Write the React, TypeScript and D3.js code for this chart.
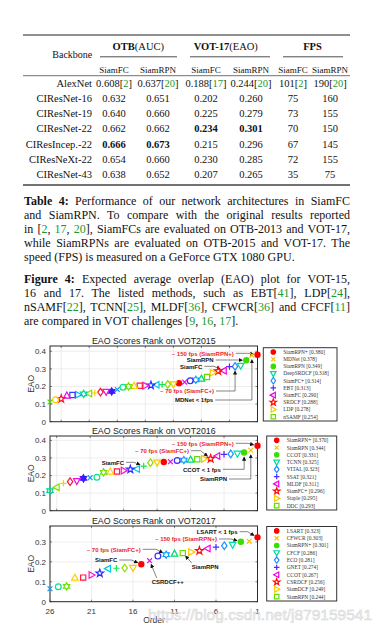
import * as d3 from "d3";
import { useEffect, useRef } from "react";

const W = 384;
const H = 635;
const SERIF = "'Liberation Serif', 'Times New Roman', serif";
const SANS = "'Liberation Sans', Arial, sans-serif";
const CITE = "#1c9a2c";

// ---- Table 4 ----
const backbones = ["AlexNet", "CIResNet-16", "CIResNet-19", "CIResNet-22", "CIResIncep.-22", "CIResNeXt-22", "CIResNet-43"];
const groupHeads = ["**OTB**(AUC)", "**VOT-17**(EAO)", "**FPS**"];
const subHeads = ["SiamFC", "SiamRPN", "SiamFC", "SiamRPN", "SiamFC", "SiamRPN"];
const otbSiamFC = ["0.608[{2}]", "0.632", "0.640", "0.662", "**0.666**", "0.654", "0.638"];
const otbSiamRPN = ["0.637[{20}]", "0.651", "0.660", "0.662", "**0.673**", "0.660", "0.652"];
const votSiamFC = ["0.188[{17}]", "0.202", "0.225", "**0.234**", "0.215", "0.230", "0.207"];
const votSiamRPN = ["0.244[{20}]", "0.260", "0.279", "**0.301**", "0.296", "0.285", "0.265"];
const fpsSiamFC = ["101[{2}]", "75", "73", "70", "67", "72", "35"];
const fpsSiamRPN = ["190[{20}]", "160", "155", "150", "145", "155", "75"];

const captionTable = [
  "**Table 4:** Performance of our network architectures in SiamFC",
  "and SiamRPN. To compare with the original results reported",
  "in [{2}, {17}, {20}], SiamFCs are evaluated on OTB-2013 and VOT-17,",
  "while SiamRPNs are evaluated on OTB-2015 and VOT-17. The",
  "speed (FPS) is measured on a GeForce GTX 1080 GPU.",
];
const captionFigure = [
  "**Figure 4:** Expected average overlap (EAO) plot for VOT-15,",
  "16 and 17. The listed methods, such as EBT[{41}], LDP[{24}],",
  "nSAMF[{22}], TCNN[{25}], MLDF[{36}], CFWCR[{36}] and CFCF[{11}]",
  "are compared in VOT challenges [{9}, {16}, {17}].",
];

// ---- EAO scores, ordered by rank (1 = best) ----
const eao2015 = [
  0.380, 0.378, 0.349, 0.318, 0.314, 0.313, 0.290, 0.288, 0.278, 0.254,
  0.244, 0.238, 0.232, 0.225, 0.219, 0.213, 0.212, 0.211, 0.210, 0.207,
  0.205, 0.204, 0.203, 0.200, 0.196, 0.183, 0.172, 0.170, 0.168, 0.163,
  0.160, 0.158, 0.153, 0.152, 0.148, 0.130, 0.124, 0.112,
];
const eao2016 = [
  0.370, 0.344, 0.331, 0.325, 0.323, 0.321, 0.311, 0.296, 0.295, 0.293,
  0.290, 0.288, 0.286, 0.279, 0.277, 0.274, 0.273, 0.254, 0.237, 0.235,
  0.228, 0.223, 0.222, 0.218, 0.190, 0.188, 0.184, 0.169, 0.165, 0.156,
  0.133, 0.114,
];
const eao2017 = [
  0.323, 0.303, 0.301, 0.286, 0.281, 0.274, 0.267, 0.256, 0.249, 0.244,
  0.241, 0.236, 0.229, 0.206, 0.188, 0.170, 0.169, 0.168, 0.166, 0.143,
  0.134, 0.121, 0.120, 0.077, 0.075, 0.065,
];
const top2015 = ["SiamRPN+", "MDNet", "SiamRPN", "DeepSRDCF", "SiamFC+", "EBT", "SiamFC", "SRDCF", "LDP", "nSAMF"];
const top2016 = ["SiamRPN+", "SiamRPN", "CCOT", "TCNN", "VITAL", "SSAT", "MLDF", "SiamFC+", "Staple", "DDC"];
const top2017 = ["LSART", "CFWCR", "SiamRPN+", "CFCF", "ECO", "GNET", "CCOT", "CSRDCF", "SiamDCF", "SiamRPN"];
const orderTicks = [26, 21, 16, 11, 6, 1];

// marker style by rank (VOT toolkit cycle)
const markerCycle = [
  ["dot", "#ff0000"], ["x", "#f2c200"], ["dot", "#3ddc00"], ["tdown", "#00dca0"], ["diamond", "#1e8cff"],
  ["plus", "#4b2bff"], ["tleft", "#f000e0"], ["pstar", "#ff0a0a"], ["tright", "#ffc400"], ["square", "#66dd00"],
  ["tup", "#00d873"], ["hex", "#0aa0ff"], ["circle", "#3a2aff"], ["x", "#e010f0"], ["dot", "#ff0000"],
  ["tdown", "#f7c800"], ["diamond", "#8cdc00"], ["plus", "#14e84a"], ["tleft", "#00c8e6"], ["pstar", "#2b2bff"],
  ["tright", "#ff10d8"], ["square", "#ff1a40"], ["tup", "#ffd000"], ["hex", "#6ce000"], ["circle", "#00e68c"],
  ["x", "#1496f0"], ["hexf", "#3a1aff"], ["tdown", "#e614e6"], ["diamond", "#ff1438"], ["plus", "#ffd000"],
  ["tleft", "#7ee000"], ["hex", "#00d890"], ["tright", "#00b8f0"], ["square", "#3c3cff"], ["tup", "#e600f0"],
  ["pstar", "#ff1030"], ["circle", "#ffcc00"], ["x", "#50d800"],
];

const notes2015 = [
  { text: "~ 150 fps (SiamRPN+)", red: true, x: 171.7, y: 353.3, rank: 1, route: "hline" },
  { text: "SiamRPN", red: false, x: 186.7, y: 360, rank: 3, route: "hline" },
  { text: "SiamFC", red: false, x: 180, y: 366.3, rank: 7, route: "hline" },
  { text: "~ 70 fps (SiamFC+)", red: true, x: 160, y: 391, rank: 5, route: "elbow" },
  { text: "MDNet < 1fps", red: false, x: 175, y: 400, rank: 2, route: "elbow" },
];
const notes2016 = [
  { text: "~ 150 fps (SiamRPN+)", red: true, x: 171.7, y: 443.3, rank: 1, route: "hline" },
  { text: "~ 70 fps (SiamFC+)", red: true, x: 135, y: 450.7, rank: 8, route: "hline" },
  { text: "SiamFC", red: false, x: 101.7, y: 462.3, rank: 18, route: "hline" },
  { text: "CCOT < 1 fps", red: false, x: 183, y: 469.3, rank: 3, route: "elbow" },
  { text: "SiamRPN", red: false, x: 200, y: 479, rank: 2, route: "elbow" },
];
const notes2017 = [
  { text: "LSART < 1 fps", red: false, x: 196.7, y: 531.7, rank: 1, route: "hline" },
  { text: "~ 150 fps (SiamRPN+)", red: true, x: 155, y: 539, rank: 3, route: "hline" },
  { text: "~ 70 fps (SiamFC+)", red: true, x: 86.7, y: 549.3, rank: 12, route: "hline" },
  { text: "SiamFC", red: false, x: 95, y: 560, rank: 15, route: "hline" },
  { text: "CSRDCF++", red: false, x: 151.7, y: 581.7, rank: 14, route: "up", dx: 5 },
  { text: "SiamRPN", red: false, x: 191.7, y: 566.7, rank: 10, route: "up", dx: 0 },
];

const panels = [
  { title: "EAO Scores Rank on VOT2015", scores: eao2015, names: top2015, top: 346, bottom: 421.7, yMax: 0.43, legend: [263.3, 347.7, 337, 421], notes: notes2015, xAxis: false },
  { title: "EAO Scores Rank on VOT2016", scores: eao2016, names: top2016, top: 436, bottom: 510.7, yMax: 0.425, legend: [266.7, 436, 336.7, 510], notes: notes2016, xAxis: false },
  { title: "EAO Scores Rank on VOT2017", scores: eao2017, names: top2017, top: 526, bottom: 601.7, yMax: 0.38, legend: [266.7, 526.5, 336.7, 601], notes: notes2017, xAxis: true },
];

const plotLeft = 50;
const plotRight = 257.5;

// "**bold**" and "{cite}" markup -> segments
const segs = (s: string) =>
  s
    .split(/(\*\*[^*]+\*\*|\{[^}]+\})/)
    .filter(Boolean)
    .map((p) =>
      p.startsWith("**") ? { t: p.slice(2, -2), bold: true, cite: false } : p.startsWith("{") ? { t: p.slice(1, -1), bold: false, cite: true } : { t: p, bold: false, cite: false }
    );

function addRich(g: any, str: string, x: number, y: number, size: number, anchor = "start") {
  const t = g
    .append("text")
    .attr("x", x)
    .attr("y", y)
    .attr("font-family", SERIF)
    .attr("font-size", size)
    .attr("text-anchor", anchor)
    .attr("fill", "#111");
  segs(str).forEach((s) => {
    t.append("tspan")
      .text(s.t)
      .attr("font-weight", s.bold ? "bold" : null)
      .attr("fill", s.cite ? CITE : null);
  });
  return t;
}

const starPath = (n: number, ro: number, ri: number) => {
  const pts = d3.range(n * 2).map((i) => {
    const a = (Math.PI * i) / n - Math.PI / 2;
    const r = i % 2 ? ri : ro;
    return `${(r * Math.cos(a)).toFixed(2)},${(r * Math.sin(a)).toFixed(2)}`;
  });
  return "M" + pts.join("L") + "Z";
};

const shapePaths: Record<string, string> = {
  x: "M-2.4,-2.4L2.4,2.4M-2.4,2.4L2.4,-2.4",
  plus: "M-3.2,0L3.2,0M0,-3.2L0,3.2",
  square: "M-2.6,-2.6H2.6V2.6H-2.6Z",
  diamond: "M0,-3.8L2.7,0L0,3.8L-2.7,0Z",
  tup: "M0,-3.6L3.3,2.4L-3.3,2.4Z",
  tdown: "M0,3.6L3.3,-2.4L-3.3,-2.4Z",
  tleft: "M-3.6,0L2.4,-3.3L2.4,3.3Z",
  tright: "M3.6,0L-2.4,-3.3L-2.4,3.3Z",
  pstar: starPath(5, 4, 1.6),
  hex: starPath(6, 3.6, 2.1),
  hexf: starPath(6, 3.6, 2.1),
};

function drawMarker(g: any, shape: string, color: string, cx: number, cy: number, k = 1) {
  if (shape === "dot" || shape === "circle") {
    g.append("circle")
      .attr("cx", cx)
      .attr("cy", cy)
      .attr("r", (shape === "dot" ? 2.6 : 2.9) * k)
      .attr("fill", shape === "dot" ? color : "none")
      .attr("stroke", color)
      .attr("stroke-width", 1.2);
    return;
  }
  g.append("path")
    .attr("d", shapePaths[shape])
    .attr("transform", `translate(${cx},${cy}) scale(${k})`)
    .attr("fill", shape === "hexf" ? color : "none")
    .attr("stroke", color)
    .attr("stroke-width", 1.2 / k)
    .attr("stroke-linejoin", "miter");
}

function drawCaption(svg: any, lines: string[], y0: number, step: number) {
  lines.forEach((line, i) => {
    const t = addRich(svg, line, 24, y0 + i * step, 12);
    if (i < lines.length - 1) {
      const node = t.node();
      const len = node.getComputedTextLength();
      const gaps = (node.textContent.match(/ /g) || []).length;
      if (gaps) t.attr("word-spacing", ((326 - len) / gaps).toFixed(3));
    }
  });
}

function drawTable(svg: any) {
  const g = svg.append("g");
  const colX = [114, 158, 206, 251, 293, 330];
  const groupX = [138.3, 225.8, 312.5];
  const groupSpan = [[100, 177], [190, 270], [283, 343]];
  const cols = [otbSiamFC, otbSiamRPN, votSiamFC, votSiamRPN, fpsSiamFC, fpsSiamRPN];
  const rowY = d3.scaleLinear().domain([0, backbones.length - 1]).range([83, 174.5]);

  g.append("line").attr("x1", 23).attr("x2", 350).attr("y1", 35).attr("y2", 35).attr("stroke", "#222").attr("stroke-width", 1.2);
  g.append("line").attr("x1", 23).attr("x2", 350).attr("y1", 75.7).attr("y2", 75.7).attr("stroke", "#333").attr("stroke-width", 0.7);
  g.append("line").attr("x1", 23).attr("x2", 350).attr("y1", 185).attr("y2", 185).attr("stroke", "#444").attr("stroke-width", 1.3);
  groupSpan.forEach(([a, b]) =>
    g.append("line").attr("x1", a).attr("x2", b).attr("y1", 56.8).attr("y2", 56.8).attr("stroke", "#222").attr("stroke-width", 0.8)
  );

  addRich(g, "Backbone", 72.3, 57.8, 10, "middle");
  groupHeads.forEach((h, i) => addRich(g, h, groupX[i], 49.6, 10.5, "middle"));
  subHeads.forEach((h, i) => addRich(g, h, colX[i], 72.5, 9, "middle"));

  backbones.forEach((b, r) => {
    const y = rowY(r) + 3.7;
    addRich(g, b, 92, y, 10.5, "end");
    cols.forEach((col, c) => addRich(g, col[r], colX[c], y, 10.5, "middle"));
  });
}

function drawPanel(svg: any, p: any) {
  const n = p.scores.length;
  const x = d3.scaleLinear().domain([n, 1]).range([plotLeft, plotRight]);
  const y = d3.scaleLinear().domain([0, p.yMax]).range([p.bottom, p.top]);
  const g = svg.append("g");

  g.append("text")
    .attr("x", (plotLeft + plotRight) / 2)
    .attr("y", p.top - 1.6)
    .attr("text-anchor", "middle")
    .attr("font-family", SANS)
    .attr("font-size", 8.8)
    .attr("fill", "#222")
    .text(p.title);

  g.append("rect")
    .attr("x", plotLeft)
    .attr("y", p.top)
    .attr("width", plotRight - plotLeft)
    .attr("height", p.bottom - p.top)
    .attr("fill", "#fff");

  const yTicks = y.ticks(4);
  const xGrid = d3.range(1, n + 1, 5);

  // grid
  g.selectAll(".gy")
    .data(yTicks)
    .join("line")
    .attr("x1", plotLeft)
    .attr("x2", plotRight)
    .attr("y1", (d) => y(d))
    .attr("y2", (d) => y(d))
    .attr("stroke", "#e2e2e2")
    .attr("stroke-width", 0.6);
  g.selectAll(".gx")
    .data(xGrid)
    .join("line")
    .attr("x1", (d) => x(d))
    .attr("x2", (d) => x(d))
    .attr("y1", p.top)
    .attr("y2", p.bottom)
    .attr("stroke", "#e2e2e2")
    .attr("stroke-width", 0.6);

  // inward ticks, all four sides
  yTicks.forEach((t) => {
    g.append("line").attr("x1", plotLeft).attr("x2", plotLeft + 2).attr("y1", y(t)).attr("y2", y(t)).attr("stroke", "#333").attr("stroke-width", 0.6);
    g.append("line").attr("x1", plotRight - 2).attr("x2", plotRight).attr("y1", y(t)).attr("y2", y(t)).attr("stroke", "#333").attr("stroke-width", 0.6);
  });
  xGrid.forEach((t) => {
    g.append("line").attr("x1", x(t)).attr("x2", x(t)).attr("y1", p.bottom).attr("y2", p.bottom - 2).attr("stroke", "#333").attr("stroke-width", 0.6);
    g.append("line").attr("x1", x(t)).attr("x2", x(t)).attr("y1", p.top).attr("y2", p.top + 2).attr("stroke", "#333").attr("stroke-width", 0.6);
  });

  g.append("rect")
    .attr("x", plotLeft)
    .attr("y", p.top)
    .attr("width", plotRight - plotLeft)
    .attr("height", p.bottom - p.top)
    .attr("fill", "none")
    .attr("stroke", "#2a2a2a")
    .attr("stroke-width", 1);

  g.selectAll(".yl")
    .data(yTicks)
    .join("text")
    .attr("x", plotLeft - 4)
    .attr("y", (d) => y(d) + 2.8)
    .attr("text-anchor", "end")
    .attr("font-family", SANS)
    .attr("font-size", 8)
    .attr("fill", "#333")
    .text((d) => (d === 0 ? "0" : d3.format(".1f")(d)));

  g.append("text")
    .attr("transform", `translate(34,${(p.top + p.bottom) / 2}) rotate(-90)`)
    .attr("text-anchor", "middle")
    .attr("font-family", SANS)
    .attr("font-size", 8.5)
    .attr("fill", "#333")
    .text("EAO");

  if (p.xAxis) {
    g.selectAll(".xl")
      .data(orderTicks)
      .join("text")
      .attr("x", (d) => x(d))
      .attr("y", p.bottom + 12.3)
      .attr("text-anchor", "middle")
      .attr("font-family", SANS)
      .attr("font-size", 8)
      .attr("fill", "#333")
      .text((d) => d);
    g.append("text")
      .attr("x", 154)
      .attr("y", p.bottom + 21.5)
      .attr("text-anchor", "middle")
      .attr("font-family", SANS)
      .attr("font-size", 8.5)
      .attr("fill", "#333")
      .text("Order");
  }

  // annotation lines + labels
  p.notes.forEach((a: any) => {
    const t = g
      .append("text")
      .attr("x", a.x)
      .attr("y", a.y + 2.2)
      .attr("font-family", SANS)
      .attr("font-size", 6)
      .attr("font-weight", "bold")
      .attr("fill", a.red ? "#e8262a" : "#111")
      .text(a.text);
    const end = a.x + t.node().getComputedTextLength();
    const tx = x(a.rank);
    const ty = y(p.scores[a.rank - 1]);
    const stopAt = (sx: number, sy: number, gap: number) => {
      const dx = tx - sx;
      const dy = ty - sy;
      const l = Math.hypot(dx, dy) || 1;
      return [tx - (gap * dx) / l, ty - (gap * dy) / l];
    };
    let d = "";
    if (a.route === "hline") {
      const bx = tx - 10;
      const [ex, ey] = stopAt(bx, a.y, 4.2);
      d = `M${end + 2},${a.y}H${bx}L${ex},${ey}`;
    } else if (a.route === "elbow") {
      d = `M${end + 2},${a.y}H${tx}V${ty + 4.8}`;
    } else {
      const sx = a.x + a.dx;
      const sy = a.y - 3.8;
      const [ex, ey] = stopAt(sx, sy, 4.2);
      d = `M${sx},${sy}L${ex},${ey}`;
    }
    g.append("path")
      .attr("d", d)
      .attr("fill", "none")
      .attr("stroke", "#333")
      .attr("stroke-width", 0.6)
      .attr("marker-end", "url(#arrow)");
  });

  // markers
  p.scores.forEach((s: number, i: number) => {
    const [shape, color] = markerCycle[i];
    drawMarker(g, shape, color, x(i + 1), y(s));
  });

  // legend
  const [lx0, ly0, lx1, ly1] = p.legend;
  g.append("rect")
    .attr("x", lx0)
    .attr("y", ly0)
    .attr("width", lx1 - lx0)
    .attr("height", ly1 - ly0)
    .attr("fill", "#fff")
    .attr("stroke", "#333")
    .attr("stroke-width", 1);
  const step = (ly1 - ly0) / 10.2;
  p.names.forEach((name: string, i: number) => {
    const cy = ly0 + step * (0.6 + i);
    const [shape, color] = markerCycle[i];
    drawMarker(g, shape, color, lx0 + 10, cy, 0.85);
    g.append("text")
      .attr("x", lx0 + 20)
      .attr("y", cy + 1.9)
      .attr("font-family", SERIF)
      .attr("font-size", 5.4)
      .attr("fill", "#333")
      .text(`${name} [${p.scores[i].toFixed(3)}]`);
  });
}

export default function App() {
  const svgRef = useRef<SVGSVGElement>(null);

  useEffect(() => {
    const svg = d3.select(svgRef.current);
    svg.selectAll("*").remove();
    svg.append("rect").attr("width", W).attr("height", H).attr("fill", "#fff");

    const defs = svg.append("defs");
    defs
      .append("marker")
      .attr("id", "arrow")
      .attr("viewBox", "0 0 10 10")
      .attr("refX", 8)
      .attr("refY", 5)
      .attr("markerWidth", 4.2)
      .attr("markerHeight", 4.2)
      .attr("markerUnits", "userSpaceOnUse")
      .attr("orient", "auto")
      .append("path")
      .attr("d", "M0,0L10,5L0,10Z")
      .attr("fill", "#111");

    drawTable(svg);
    drawCaption(svg, captionTable, 204.7, 14.15);
    drawCaption(svg, captionFigure, 283.3, 13.9);
    panels.forEach((p) => drawPanel(svg, p));

    // page watermark
    svg
      .append("text")
      .attr("x", 148)
      .attr("y", 619.5)
      .attr("font-family", SANS)
      .attr("font-size", 15.5)
      .attr("fill", "#ececec")
      .attr("stroke", "#cfcfcf")
      .attr("stroke-width", 0.5)
      .attr("opacity", 0.85)
      .text("https://blog.csdn.net/j879159541");
  }, []);

  return (
    <svg
      ref={svgRef}
      width={W}
      height={H}
      style={{ position: "absolute", left: 0, top: 0, display: "block" }}
    />
  );
}
